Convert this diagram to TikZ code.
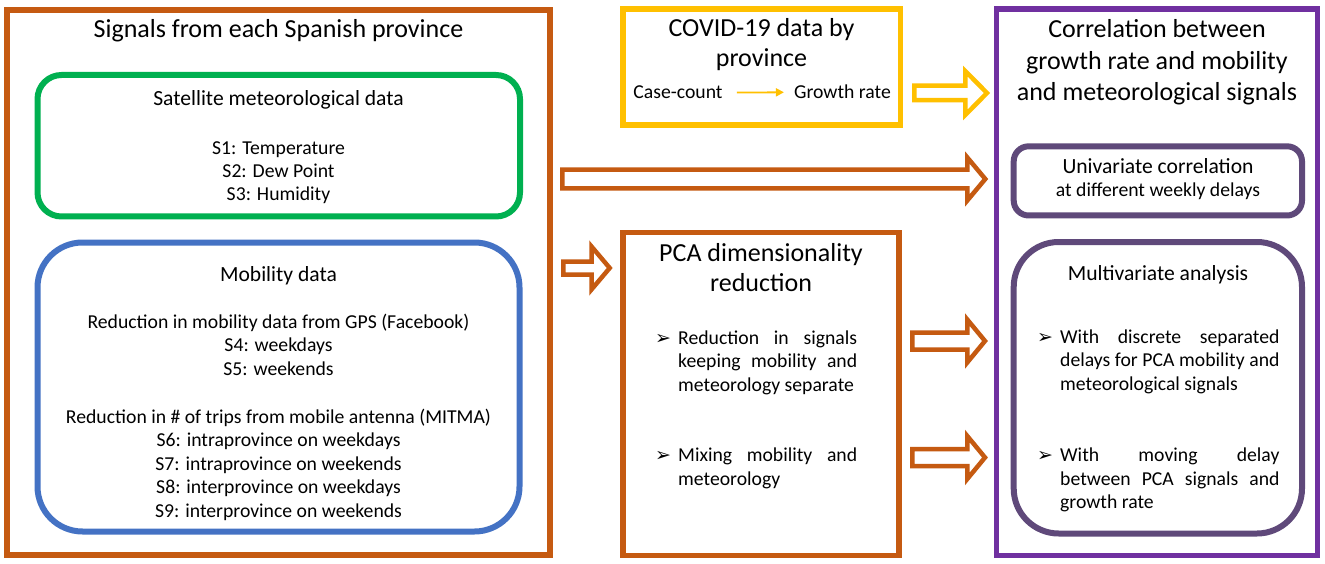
\documentclass[tikz,border=0pt]{standalone}
\usepackage{fontspec}
\setmainfont{Carlito}
\newfontfamily\dvfont{DejaVu Sans}
\usetikzlibrary{arrows.meta,calc}
\definecolor{corange}{RGB}{197,90,17}
\definecolor{cyellow}{RGB}{255,192,0}
\definecolor{cpurple}{RGB}{112,48,160}
\definecolor{cgreen}{RGB}{0,176,80}
\definecolor{cblue}{RGB}{68,114,196}
\definecolor{cgrape}{RGB}{95,73,122}
\newcommand\bigf{\fontsize{26}{30.5}\selectfont}
\newcommand\corrf{\fontsize{26}{31.5}\selectfont}
\newcommand\midf{\fontsize{21.6}{24}\selectfont}
\newcommand\smf{\fontsize{19.7}{23.5}\selectfont}
\newcommand\bul{\makebox[23pt][l]{\dvfont\fontsize{19}{19}\selectfont ➢}}
\begin{document}
\begin{tikzpicture}[x=1pt,y=-1pt,
  frame/.style={draw, line width=5.5pt, inner sep=0pt, outer sep=0pt, fill=none},
  txt/.style={inner sep=0pt, anchor=base, align=center},
  bull/.style={inner sep=0pt, anchor=base west, align=justify, font=\smf},
  hollow/.style n args={3}{to path={let \p1=(\tikztostart), \p2=(\tikztotarget) in
     (\x1,\y1+#1) -- (\x2-#3,\y1+#1) -- (\x2-#3,\y1+#2) -- (\x2,\y1)
     -- (\x2-#3,\y1-#2) -- (\x2-#3,\y1-#1) -- (\x1,\y1-#1) -- cycle}},
  harrow/.style={draw=corange, fill=white, line width=4.5pt, line join=miter}
]
\useasboundingbox[fill=white] (0,0) rectangle (1325,564);

% ---- left: signals
\node[frame, draw=corange, minimum width=543pt, minimum height=545pt] (signals) at (278.5,282.5) {};
\node[txt, font=\bigf] (tsig) at (278.5,38) {Signals from each Spanish province};
\node[frame, draw=cgreen, line width=6pt, rounded corners=24pt, minimum width=482.5pt, minimum height=141.5pt] (sat) at (278.75,145.75) {};
\node[txt, font=\midf] (tsat) at (278.5,106) {Satellite meteorological data};
\node[txt, font=\smf] (ssat) at (278.5,201) {S1: Temperature\\S2: Dew Point\\S3: Humidity};
\node[frame, draw=cblue, line width=6pt, rounded corners=45pt, minimum width=482pt, minimum height=289pt] (mob) at (278.5,387) {};
\node[txt, font=\midf] (tmob) at (278.5,281) {Mobility data};
\node[txt, font=\smf] (smob1) at (278.5,375) {Reduction in mobility data from GPS (Facebook)\\S4: weekdays\\S5: weekends};
\node[txt, font=\smf] (smob2) at (278.5,517) {Reduction in \# of trips from mobile antenna (MITMA)\\S6: intraprovince on weekdays\\S7: intraprovince on weekends\\S8: interprovince on weekdays\\S9: interprovince on weekends};

% ---- covid
\node[frame, draw=cyellow, minimum width=277.5pt, minimum height=116pt] (covid) at (761.75,67) {};
\node[txt, font=\bigf] (tcov) at (761.5,67) {COVID-19 data by\\province};
\node[txt, font=\smf] (cc) at (678,99) {Case-count};
\node[txt, font=\smf] (gr) at (842.5,99) {Growth rate};
\draw[cyellow, line width=1.8pt, -{Triangle[length=8pt,width=8pt]}, shorten <=14pt, shorten >=10pt] (cc.east) -- (gr.west);

% ---- PCA
\node[frame, draw=corange, minimum width=276pt, minimum height=323pt] (pca) at (761,394) {};
\node[txt, font=\bigf] (tpca) at (761,291.7) {PCA dimensionality\\reduction};
\node[bull, text width=202pt] (pb1) at (655,344) {\noindent\hangindent=23pt\hangafter=1\bul Reduction in signals\linebreak keeping mobility and\linebreak meteorology separate\par};
\node[bull, text width=202pt] (pb2) at (655,461.7) {\noindent\hangindent=23pt\hangafter=1\bul Mixing mobility and\linebreak meteorology\par};

% ---- correlation
\node[frame, draw=cpurple, minimum width=321pt, minimum height=546.5pt] (corr) at (1157,282.25) {};
\node[txt, font=\corrf] (tcorr) at (1157,101) {Correlation between\\growth rate and mobility\\and meteorological signals};
\node[frame, draw=cgrape, line width=6pt, rounded corners=15pt, minimum width=288.3pt, minimum height=69.2pt] (uni) at (1157.85,180.9) {};
\node[txt, font=\midf] (tuni1) at (1158,173.3) {Univariate correlation};
\node[txt, font=\smf] (tuni2) at (1158,196.7) {at different weekly delays};
\node[frame, draw=cgrape, line width=6pt, rounded corners=45pt, minimum width=288.3pt, minimum height=291.5pt] (multi) at (1157.85,387.75) {};
\node[txt, font=\midf] (tmul) at (1158,280) {Multivariate analysis};
\node[bull, text width=242.3pt] (mb1) at (1037,343.3) {\noindent\hangindent=23pt\hangafter=1\bul With discrete separated\linebreak delays for PCA mobility and\linebreak meteorological signals\par};
\node[bull, text width=242.3pt] (mb2) at (1037,461.7) {\noindent\hangindent=23pt\hangafter=1\bul With moving delay\linebreak between PCA signals and\linebreak growth rate\par};

% ---- hollow arrows
\coordinate (ya) at (914.25,93);  \coordinate (yb) at (987,93);
\coordinate (la) at (562.25,179); \coordinate (lb) at (985.3,179);
\coordinate (sa) at (563.25,268); \coordinate (sb) at (609.7,268);
\coordinate (pa) at (912.25,341); \coordinate (pb) at (985,341);
\coordinate (qa) at (912.25,457.5); \coordinate (qb) at (985,457.5);
\draw[harrow, draw=cyellow] (ya) to[hollow={7.25pt}{22pt}{21.75pt}] (yb);
\draw[harrow] (la) to[hollow={9.4pt}{21.5pt}{18pt}] (lb);
\draw[harrow] (sa) to[hollow={6.5pt}{21.5pt}{18.2pt}] (sb);
\draw[harrow] (pa) to[hollow={8.5pt}{21.5pt}{17.75pt}] (pb);
\draw[harrow] (qa) to[hollow={8.5pt}{21.5pt}{17.75pt}] (qb);
\end{tikzpicture}
\end{document}
